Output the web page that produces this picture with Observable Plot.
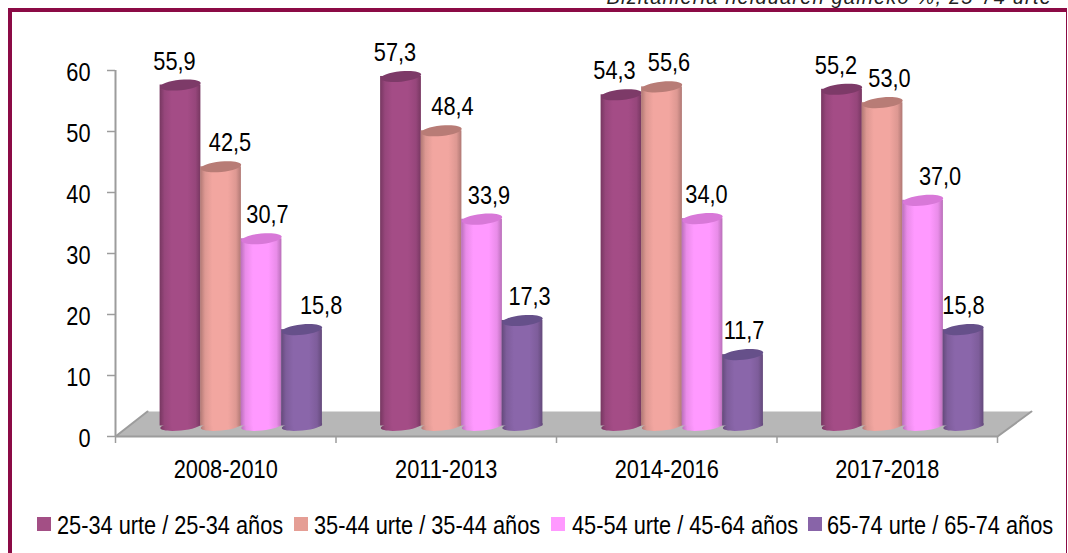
<!DOCTYPE html>
<html><head><meta charset="utf-8">
<script src="https://cdn.jsdelivr.net/npm/d3@7"></script>
<script src="https://cdn.jsdelivr.net/npm/@observablehq/plot@0.6"></script>
<style>
html,body{margin:0;padding:0;background:#fff;}
#page{position:relative;width:1068px;height:553px;overflow:hidden;background:#fff;font-family:"Liberation Sans",Arial,sans-serif;}
#frame{position:absolute;left:8px;top:8px;width:1054px;height:560px;border-left:4px solid #8b0a45;border-top:4px solid #8b0a45;border-right:1px solid #8b0a45;}
#subtitle{position:absolute;right:16px;top:-14px;font:italic 20px "Liberation Sans",Arial,sans-serif;color:#222;white-space:nowrap;letter-spacing:1.18px;}
#chart{position:absolute;left:0;top:0;}
#legend{position:absolute;top:513px;left:0;height:24px;color:#000;font-size:25px;line-height:24px;}
#legend span{position:absolute;top:0;white-space:nowrap;display:block;transform:scaleX(.87);transform-origin:left center;}
#legend i{position:absolute;top:4px;width:14px;height:14px;}
</style></head>
<body><div id="page">
<div id="frame"></div>
<div id="subtitle">Bizitanleria helduaren gaineko %, 25-74 urte</div>
<div id="chart"></div>
<div id="legend"></div>
</div>
<script>
const periods = ["2008-2010","2011-2013","2014-2016","2017-2018"];
const ages = ["25-34 urte / 25-34 años","35-44 urte / 35-44 años","45-54 urte / 45-64 años","65-74 urte / 65-74 años"];
const age2534 = [55.9,57.3,54.3,55.2];
const age3544 = [42.5,48.4,55.6,53.0];
const age4554 = [30.7,33.9,34.0,37.0];
const age6574 = [15.8,17.3,11.7,15.8];
const yTicks = [0,10,20,30,40,50,60];
const bodyColors = ["#a44c86","#f2a6a0","#ff99ff","#8a66aa"];
const topColors = ["#7d3a68","#b87c76","#d878d8","#66508a"];
const legendColors = ["#a34f85","#e59e95","#ff99ff","#8864a8"];
const legendBoxX = [37,294,551,808];
const legendTextX = [57,314,572,827];
// horizontal nudge of each value label, in pixels
const labelNudge = [[-6,9,6,19],[-6,11,7,7],[-7,7,4,1],[-6,7,17,0]];

const seriesValues = [age2534,age3544,age4554,age6574];
const rows = seriesValues.map((vals,s)=>vals.map((v,p)=>({s,p,v})));
const cx = d => d.p + 0.2948 + d.s*0.1837;
const bw = 0.0925;

const defs = () => {
  const svg = d3.create("svg:defs");
  bodyColors.forEach((c,i)=>{
    const g = svg.append("linearGradient").attr("id","cyl"+i);
    const dark = d3.color(c).darker(0.9).formatHex();
    const mid = d3.color(c).darker(0.25).formatHex();
    [[0,dark],[.12,mid],[.3,c],[.68,c],[.88,mid],[1,dark]].forEach(([o,k])=>g.append("stop").attr("offset",o).attr("stop-color",k));
  });
  return svg.node();
};

const ellipse = ry => ({draw(ctx,size){
  const rx = Math.sqrt(size/Math.PI), k=0.5523;
  ctx.moveTo(-rx,0);
  ctx.bezierCurveTo(-rx,-ry*k,-rx*k,-ry,0,-ry);
  ctx.bezierCurveTo(rx*k,-ry,rx,-ry*k,rx,0);
  ctx.bezierCurveTo(rx,ry*k,rx*k,ry,0,ry);
  ctx.bezierCurveTo(-rx*k,ry,-rx,ry*k,-rx,0);
  ctx.closePath();
}});

const floorX = [0,0.145,4.154,4];
const floorY = [0,4.1,4.1,0];
const floorPts = floorX.map((x,i)=>({x,y:floorY[i]}));
const floorEdge = [floorPts[1],floorPts[0],floorPts[3],floorPts[2]];

const lift = -10.5;
const cylMarks = rows.flatMap((r,s)=>[
  Plot.dot(r,{x:cx,y:()=>0,dy:lift,r:20.3,symbol:ellipse(4.5),rotate:-6,fill:`url(#cyl${s})`}),
  Plot.rect(r,{x1:d=>cx(d)-bw,x2:d=>cx(d)+bw,y1:()=>0,y2:"v",dy:lift,fill:`url(#cyl${s})`}),
  Plot.dot(r,{x:cx,y:"v",dy:lift,r:20.3,symbol:ellipse(5.2),rotate:-6,fill:topColors[s]})
]);

const chart = Plot.plot({
  width:1068,height:480,
  marginLeft:115,marginRight:71,marginTop:70,marginBottom:44,
  style:{background:"transparent",fontFamily:'"Liberation Sans",Arial,sans-serif',overflow:"visible"},
  x:{domain:[0,4],axis:null},
  y:{domain:[0,60],axis:null},
  marks:[
    defs,
    Plot.line(floorPts,{x:"x",y:"y",fill:"#b7b7b7",stroke:"none"}),
    Plot.line(floorEdge,{x:"x",y:"y",stroke:"#9c9c9c",strokeWidth:2}),
    Plot.ruleX([0],{stroke:"#9c9c9c",strokeWidth:2}),
    Plot.axisY({ticks:yTicks,tickSize:8,stroke:"#9c9c9c",strokeWidth:1.5,tickFormat:()=>"",label:null}),
    Plot.axisY({ticks:yTicks,tickSize:0,tickPadding:25,dy:2,fontSize:25,color:"#000",label:null,tickFormat:d=>d}),
    Plot.axisX({ticks:[0,1,2,3,4],tickSize:7,stroke:"#9c9c9c",strokeWidth:1.5,tickFormat:()=>"",label:null}),
    Plot.text(periods,{x:(d,i)=>i+0.5,y:()=>0,dy:33,text:d=>d,fontSize:25,fill:"#000"}),
    ...cylMarks,
    Plot.text(rows.flat(),{
      x:d=>cx(d)+labelNudge[d.p][d.s]/220,
      y:"v",dy:-34,
      text:d=>d.v.toFixed(1).replace(".",","),
      fontSize:25,fill:"#000"
    })
  ]
});
chart.querySelectorAll("text").forEach(t=>t.setAttribute("transform",(t.getAttribute("transform")||"")+" scale(.87,1)"));
document.getElementById("chart").appendChild(chart);

const legend = d3.select("#legend");
ages.forEach((a,i)=>{
  legend.append("i").style("left",legendBoxX[i]+"px").style("background",legendColors[i]);
  legend.append("span").style("left",legendTextX[i]+"px").text(a);
});
</script>
</body></html>
